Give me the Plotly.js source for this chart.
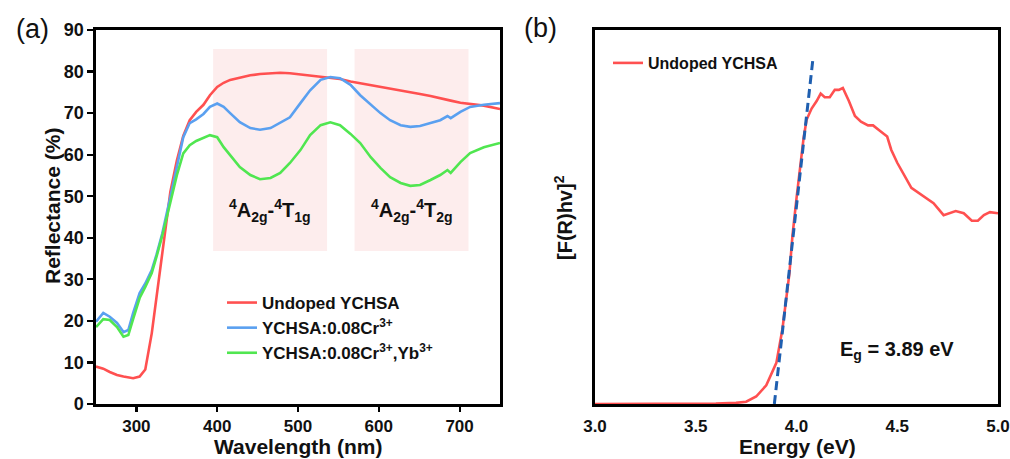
<!DOCTYPE html>
<html>
<head>
<meta charset="utf-8">
<script src="https://cdn.plot.ly/plotly-3.0.1.min.js"></script>
<style>
html,body{margin:0;padding:0;background:#fff;}
#chart{width:1010px;height:459px;}
</style>
</head>
<body>
<div id="chart"></div>
<script>
// ---------- Panel (a): reflectance spectra ----------
const wavelength = [250,259,267,276,284,290,296,304,311,319,325,332,342,350,358,366,374,383,391,400,408,416,428,441,453,466,478,490,503,515,528,540,552,565,577,590,602,614,627,639,651,664,676,685,689,701,713,730,750];
const undopedR = [9.0,8.5,7.7,7.0,6.6,6.4,6.2,6.6,8.3,17,26,37,51,58.5,64.5,68.3,70.3,72,74.3,76.3,77.3,78,78.6,79.1,79.4,79.6,79.7,79.6,79.3,79,78.8,78.5,78.2,77.6,77.2,76.7,76.2,75.8,75.4,75,74.6,74.1,73.5,73.1,73,72.5,72.2,71.8,71.0];
const crR = [19.8,21.9,21.0,19.5,17.3,17.8,21.9,26.7,29,32.2,36,41,49.8,57,64.2,67.6,68.5,69.8,71.5,72.3,71.5,70,67.8,66.4,66,66.4,67.6,69,72.4,75.5,78,78.7,78.4,76.8,74.3,72,70,68.3,67.1,66.7,66.9,67.6,68.3,69.3,68.8,70.3,71.5,72,72.4];
const crYbR = [18.5,20.4,20.2,18.5,16.2,16.6,20.5,25.5,28.2,31.5,35.5,40.5,48.5,55,60.3,62.3,63.3,64,64.7,64.2,61.8,59.9,57,55.1,54.1,54.4,55.6,58,61.1,64.7,67.1,67.8,67.1,65,62.8,59.4,56.8,54.6,53.2,52.5,52.7,53.9,55.1,56.3,55.6,58.2,60.4,61.8,62.8];
const seriesNames = ['Undoped YCHSA','YCHSA:0.08Cr<sup>3+</sup>','YCHSA:0.08Cr<sup>3+</sup>,Yb<sup>3+</sup>'];
const bandStart = [395, 570];
const bandEnd = [536, 711];
const bandLow = [36.8, 36.8];
const bandHigh = [85.4, 85.4];
const bandLabels = ['<sup>4</sup>A<sub>2g</sub>-<sup>4</sup>T<sub>1g</sub>','<sup>4</sup>A<sub>2g</sub>-<sup>4</sup>T<sub>2g</sub>'];
const xTicksA = [300,400,500,600,700];
const yTicksA = [0,10,20,30,40,50,60,70,80,90];

// ---------- Panel (b): Tauc plot ----------
const energy = [3.0,3.2,3.4,3.5,3.6,3.7,3.75,3.8,3.85,3.9,3.93,3.965,3.98,4.0,4.02,4.035,4.05,4.075,4.1,4.12,4.14,4.165,4.19,4.21,4.23,4.26,4.29,4.32,4.355,4.38,4.415,4.45,4.47,4.5,4.57,4.63,4.68,4.73,4.79,4.83,4.87,4.9,4.93,4.96,5.0];
const tauc = [0,0,0,0,0.001,0.003,0.006,0.02,0.05,0.11,0.2,0.35,0.45,0.55,0.64,0.71,0.76,0.79,0.81,0.83,0.82,0.82,0.84,0.84,0.845,0.81,0.77,0.755,0.745,0.745,0.73,0.715,0.68,0.645,0.578,0.555,0.537,0.505,0.516,0.51,0.49,0.49,0.505,0.513,0.51];
const fitE = [3.89, 4.082];
const fitY = [0, 0.925];
const xTicksB = [3.0,3.5,4.0,4.5,5.0];
const gapLabel = 'E<sub>g</sub> = 3.89 eV';

const RED = '#ff5050', BLUE = '#5aa0f0', GREEN = '#50e650', DASH = '#1f5fb0';
const FONT = 'Liberation Sans, Arial, sans-serif';
const W = 1010, H = 459;
const px = v => v / W, py = v => 1 - v / H;

const traces = [
  {x: wavelength, y: undopedR, name: seriesNames[0], type: 'scatter', mode: 'lines', line: {color: RED, width: 2.6}, xaxis: 'x', yaxis: 'y', legend: 'legend'},
  {x: wavelength, y: crR, name: seriesNames[1], type: 'scatter', mode: 'lines', line: {color: BLUE, width: 2.6}, xaxis: 'x', yaxis: 'y', legend: 'legend'},
  {x: wavelength, y: crYbR, name: seriesNames[2], type: 'scatter', mode: 'lines', line: {color: GREEN, width: 2.6}, xaxis: 'x', yaxis: 'y', legend: 'legend'},
  {x: energy, y: tauc, name: 'Undoped YCHSA', type: 'scatter', mode: 'lines', line: {color: RED, width: 2.6}, xaxis: 'x2', yaxis: 'y2', legend: 'legend2', cliponaxis: false},
  {x: fitE, y: fitY, name: 'fit', type: 'scatter', mode: 'lines', line: {color: DASH, width: 3, dash: '9px,5px'}, xaxis: 'x2', yaxis: 'y2', showlegend: false}
];

const shapes = bandStart.map((s, i) => ({
  type: 'rect', xref: 'x', yref: 'y', x0: s, x1: bandEnd[i], y0: bandLow[i], y1: bandHigh[i],
  fillcolor: '#fdeded', line: {width: 0}, layer: 'below'
}));

const axisCommon = {
  showline: true, mirror: true, linecolor: '#000', linewidth: 2.6,
  showgrid: false, zeroline: false, ticklabeloverflow: 'allow',
  tickfont: {family: FONT, size: 17, color: '#111', weight: 700}
};

const ann = (text, x, y, size, extra) => Object.assign({
  text: text, x: px(x), y: py(y), xref: 'paper', yref: 'paper', xanchor: 'center', yanchor: 'middle',
  showarrow: false, font: {family: FONT, size: size, color: '#111', weight: 700}
}, extra || {});

const annotations = [
  ann('(a)', 32, 29, 27, {font: {family: FONT, size: 27, color: '#111'}}),
  ann('(b)', 540, 28, 27, {font: {family: FONT, size: 27, color: '#111'}}),
  ann('Reflectance (%)', 52, 206, 21, {textangle: -90}),
  ann('Wavelength (nm)', 298, 446, 21),
  ann('Energy (eV)', 797, 446, 21),
  ann('[F(R)hv]<sup>2</sup>', 564, 218, 20, {textangle: -90}),
  ann(gapLabel, 838, 350, 20, {xanchor: 'left'})
].concat(bandLabels.map((t, i) => ({
  text: t, x: (bandStart[i] + bandEnd[i]) / 2, y: 46.5, xref: 'x', yref: 'y', xanchor: 'center', yanchor: 'middle', showarrow: false,
  font: {family: FONT, size: 20, color: '#111', weight: 700}
})));

const layout = {
  width: W, height: H,
  margin: {l: 0, r: 0, t: 0, b: 0},
  paper_bgcolor: '#fff', plot_bgcolor: '#fff',
  xaxis: Object.assign({}, axisCommon, {domain: [px(96), px(500)], range: [250, 750], tickvals: xTicksA, ticks: 'outside', ticklen: 5, tickwidth: 2.2, tickcolor: '#000', anchor: 'y'}),
  yaxis: Object.assign({}, axisCommon, {domain: [py(404), py(30)], range: [0, 90], tickvals: yTicksA, ticks: 'outside', ticklen: 6, tickwidth: 2.2, tickcolor: '#000', anchor: 'x', tickfont: {family: FONT, size: 18, color: '#111', weight: 700}}),
  xaxis2: Object.assign({}, axisCommon, {domain: [px(595), px(998)], range: [3, 5], tickvals: xTicksB, tickformat: '.1f', ticks: '', anchor: 'y2', ticklabelstandoff: 5}),
  yaxis2: Object.assign({}, axisCommon, {domain: [py(404), py(30)], range: [0, 1], ticks: '', showticklabels: false, anchor: 'x2'}),
  shapes: shapes,
  annotations: annotations,
  showlegend: true,
  legend: {x: px(222), y: py(285), xanchor: 'left', yanchor: 'top', bgcolor: 'rgba(0,0,0,0)', font: {family: FONT, size: 17, color: '#111', weight: 700}, tracegroupgap: 0},
  legend2: {x: px(608), y: py(46), xanchor: 'left', yanchor: 'top', bgcolor: 'rgba(0,0,0,0)', font: {family: FONT, size: 16, color: '#111', weight: 700}}
};

Plotly.newPlot('chart', traces, layout, {displayModeBar: false, staticPlot: true});
</script>
</body>
</html>
